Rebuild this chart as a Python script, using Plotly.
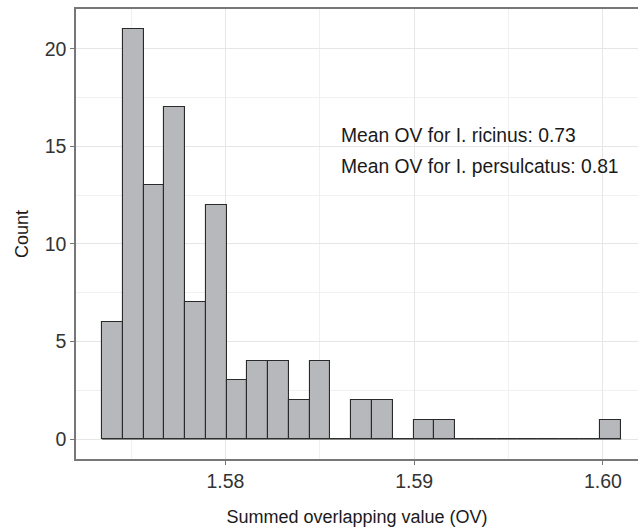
import plotly.graph_objects as go

# Histogram data (25 bins)
bin_start = 1.57346
bin_width = 0.0011005
counts = [6, 21, 13, 17, 7, 12, 3, 4, 4, 2, 4, 0, 2, 2, 0, 1, 1, 0, 0, 0, 0, 0, 0, 0, 1]
annotation_lines = ["Mean OV for I. ricinus: 0.73", "Mean OV for I. persulcatus: 0.81"]
x_ticks = [1.58, 1.59, 1.60]
x_tick_labels = ["1.58", "1.59", "1.60"]
y_ticks = [0, 5, 10, 15, 20]

n = len(counts)
centers = [bin_start + bin_width * (i + 0.5) for i in range(n)]
bin_end = bin_start + bin_width * n

FONT = "Liberation Sans, Arial, sans-serif"

fig = go.Figure()
# baseline for empty bins
fig.add_trace(go.Scatter(x=[bin_start, bin_end], y=[0, 0], mode="lines",
                         line=dict(color="#333333", width=1), hoverinfo="skip", showlegend=False))
fig.add_trace(go.Bar(x=centers, y=counts, width=[bin_width] * n,
                     marker=dict(color="#b7b8bc", line=dict(color="#2a2a2a", width=1.1)),
                     showlegend=False))

fig.add_annotation(x=1.58599, y=15.55, xref="x", yref="y", text=annotation_lines[0],
                   showarrow=False, xanchor="left", yanchor="middle",
                   font=dict(family=FONT, size=19.3, color="#1a1a1a"))
fig.add_annotation(x=1.58599, y=13.95, xref="x", yref="y", text=annotation_lines[1],
                   showarrow=False, xanchor="left", yanchor="middle",
                   font=dict(family=FONT, size=19.3, color="#1a1a1a"))

fig.update_layout(
    width=638, height=530,
    margin=dict(l=76, r=0, t=9, b=71),
    paper_bgcolor="white", plot_bgcolor="white",
    bargap=0,
    font=dict(family=FONT, color="#333333"),
)
fig.update_xaxes(
    range=[1.57208, 1.60186],
    tickvals=x_ticks, ticktext=x_tick_labels,
    tickfont=dict(size=19.5, color="#333333"),
    showgrid=True, gridcolor="#e6e6e6", gridwidth=1,
    minor=dict(dtick=0.005, tick0=1.575, showgrid=True, gridcolor="#f0f0f0", gridwidth=1),
    showline=True, linecolor="#777777", linewidth=1.5, mirror=True,
    ticks="outside", ticklen=4, tickcolor="#777777",
    zeroline=False,
    layer="above traces",
    title=dict(text="Summed overlapping value (OV)", font=dict(size=18, color="#1a1a1a"), standoff=19),
)
fig.update_yaxes(
    range=[-1.024, 22.035],
    tickvals=y_ticks,
    tickfont=dict(size=19.5, color="#333333"),
    showgrid=True, gridcolor="#e6e6e6", gridwidth=1,
    minor=dict(dtick=2.5, tick0=2.5, showgrid=True, gridcolor="#f0f0f0", gridwidth=1),
    showline=True, linecolor="#777777", linewidth=1.5,
    ticks="outside", ticklen=4, tickcolor="#777777",
    zeroline=False,
    layer="above traces",
    title=dict(text="Count", font=dict(size=18, color="#1a1a1a"), standoff=11),
)

fig.write_html("out.html")
